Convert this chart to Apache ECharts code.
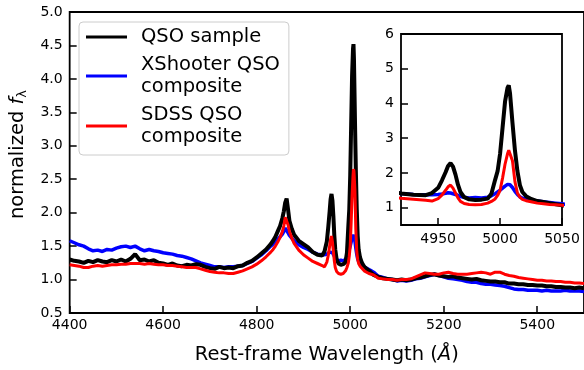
<!DOCTYPE html>
<html><head><meta charset="utf-8">
<script src="https://cdn.jsdelivr.net/npm/echarts@6/dist/echarts.min.js"></script>
<style>html,body{margin:0;padding:0;background:#fff}#c{width:584px;height:370px}</style>
</head><body><div id="c"></div>
<script>
const wavelength = [
4400,4410,4420,4430,4440,4450,4460,4470,4480,4490,
4500,4510,4520,4530,4540,4550,4560,4570,4580,4590,
4600,4610,4620,4630,4640,4650,4660,4670,4680,4690,
4700,4710,4720,4730,4740,4750,4760,4770,4780,4790,
4800,4810,4820,4830,
4835,4840,4845,4850,4855,4858,4861,4864,4867,4870,
4875,4880,4890,4900,4910,4920,4930,4940,4945,4950,
4953,4956,4958,4960,4962,4964,4966,4968,4971,4975,
4980,4985,4990,4993,4996,4998,5000,5002,5004,5006,
5007,5008,5010,5012,5014,5016,5018,5021,5025,5030,
5035,5040,5045,5050,
5060,5070,5080,5090,5100,5110,5120,5130,5140,5150,
5160,5170,5180,5190,5200,5210,5220,5230,5240,5250,
5260,5270,5280,5290,5300,5310,5320,5330,5340,5350,
5360,5370,5380,5390,5400,5410,5420,5430,5440,5450,
5460,5470,5480,5490,5500
];
const qsoSample = [
1.30,1.28,1.27,1.25,1.28,1.26,1.29,1.27,1.26,1.29,
1.27,1.30,1.27,1.31,1.38,1.29,1.30,1.27,1.29,1.25,
1.24,1.22,1.24,1.21,1.20,1.22,1.21,1.23,1.22,1.19,
1.17,1.16,1.19,1.17,1.18,1.17,1.20,1.21,1.25,1.28,
1.33,1.39,1.45,1.53,
1.58,1.64,1.72,1.80,1.92,2.02,2.15,2.21,2.05,1.88,
1.76,1.67,1.58,1.53,1.48,1.41,1.37,1.36,1.42,1.57,
1.78,2.02,2.20,2.28,2.18,1.95,1.66,1.45,1.30,1.24,
1.22,1.23,1.26,1.40,1.80,2.05,2.55,3.30,4.05,4.45,
4.52,4.30,3.45,2.65,2.05,1.65,1.45,1.33,1.25,1.19,
1.16,1.13,1.10,1.07,
1.04,1.02,1.01,1.00,0.99,1.00,0.99,1.00,1.02,1.03,
1.05,1.07,1.08,1.06,1.05,1.04,1.05,1.03,1.02,1.01,
1.00,1.01,0.99,0.98,0.97,0.97,0.96,0.96,0.94,0.94,
0.93,0.93,0.92,0.92,0.91,0.91,0.90,0.90,0.89,0.89,
0.88,0.88,0.87,0.88,0.87
];
const xshooterComposite = [
1.58,1.55,1.52,1.50,1.46,1.43,1.44,1.42,1.45,1.44,
1.47,1.49,1.50,1.48,1.50,1.46,1.43,1.45,1.43,1.42,
1.40,1.39,1.38,1.36,1.35,1.33,1.31,1.28,1.25,1.23,
1.21,1.19,1.19,1.18,1.19,1.19,1.20,1.21,1.24,1.27,
1.32,1.37,1.43,1.50,
1.53,1.57,1.60,1.64,1.68,1.72,1.77,1.76,1.70,1.66,
1.62,1.58,1.52,1.48,1.45,1.41,1.38,1.37,1.37,1.38,
1.39,1.41,1.43,1.42,1.40,1.38,1.35,1.32,1.30,1.28,
1.29,1.28,1.30,1.34,1.40,1.45,1.50,1.56,1.62,1.67,
1.69,1.66,1.58,1.47,1.38,1.31,1.27,1.24,1.22,1.19,
1.17,1.15,1.13,1.11,
1.05,1.03,1.01,1.00,0.98,0.99,0.98,0.99,1.01,1.02,
1.04,1.06,1.08,1.06,1.04,1.02,1.01,1.00,0.99,0.97,
0.96,0.96,0.94,0.93,0.93,0.92,0.91,0.90,0.88,0.86,
0.85,0.85,0.84,0.84,0.84,0.83,0.84,0.83,0.83,0.83,
0.84,0.83,0.83,0.83,0.82
];
const sdssComposite = [
1.22,1.21,1.20,1.18,1.18,1.20,1.21,1.20,1.21,1.22,
1.22,1.23,1.23,1.24,1.24,1.24,1.23,1.24,1.23,1.22,
1.22,1.21,1.21,1.20,1.19,1.18,1.18,1.18,1.16,1.14,
1.12,1.11,1.10,1.10,1.09,1.09,1.11,1.13,1.16,1.19,
1.23,1.28,1.34,1.41,
1.45,1.50,1.56,1.63,1.72,1.80,1.93,1.95,1.82,1.72,
1.62,1.54,1.44,1.37,1.32,1.27,1.24,1.21,1.19,1.26,
1.36,1.50,1.60,1.65,1.56,1.42,1.28,1.18,1.12,1.09,
1.08,1.09,1.13,1.18,1.25,1.35,1.50,1.85,2.25,2.55,
2.65,2.62,2.35,1.75,1.42,1.30,1.24,1.20,1.17,1.13,
1.11,1.09,1.08,1.07,
1.02,1.01,1.00,1.00,0.99,1.00,1.00,1.01,1.04,1.07,
1.10,1.09,1.08,1.08,1.10,1.11,1.09,1.08,1.08,1.08,
1.09,1.10,1.11,1.10,1.08,1.11,1.11,1.08,1.06,1.05,
1.03,1.02,1.01,1.00,0.99,0.99,0.98,0.98,0.97,0.97,
0.96,0.96,0.95,0.95,0.94
];
const seriesNames = ['QSO sample', 'XShooter QSO\ncomposite', 'SDSS QSO\ncomposite'];
const insetXTicks = [4950, 5000, 5050];
const insetYTicks = [1, 2, 3, 4, 5, 6];

const FONT = 'DejaVu Sans';
const pairs = arr => wavelength.map((w, i) => [w, arr[i]]);

const tickStyle = {inside: true, length: 7, lineStyle: {color: '#000', width: 1.5}};
const labelStyle = {color: '#000', fontSize: 14, fontFamily: FONT};

function lineSeries(name, arr, color, width, idx) {
  return {
    name: name, type: 'line', data: pairs(arr),
    xAxisIndex: idx, yAxisIndex: idx,
    showSymbol: false, symbol: 'none', silent: true, animation: false,
    lineStyle: {color: color, width: width}, itemStyle: {color: color},
    clip: true
  };
}

const chart = echarts.init(document.getElementById('c'), null, {renderer: 'canvas'});
chart.setOption({
  animation: false,
  backgroundColor: '#fff',
  grid: [
    {left: 69, top: 12, width: 516, height: 302, show: true, borderColor: '#000', borderWidth: 1.8, backgroundColor: 'transparent'},
    {left: 401, top: 34, width: 161, height: 191, show: true, borderColor: '#000', borderWidth: 1.8, backgroundColor: '#fff'}
  ],
  legend: {
    data: seriesNames.map(n => ({name: n, icon: 'rect'})),
    orient: 'vertical', left: 79, top: 22,
    itemWidth: 41, itemHeight: 3, itemGap: 6,
    padding: [4, 9, 7, 7],
    backgroundColor: 'rgba(255,255,255,0.85)',
    borderColor: '#cccccc', borderWidth: 1, borderRadius: 4,
    itemStyle: {borderWidth: 0},
    textStyle: {color: '#000', fontSize: 19.5, lineHeight: 22, fontFamily: FONT, padding: [0, 0, 0, 9]}
  },
  xAxis: [
    {gridIndex: 0, type: 'value', min: 4400, max: 5500, interval: 200,
     axisLine: {show: false}, axisTick: tickStyle, splitLine: {show: false},
     axisLabel: Object.assign({margin: 5, showMaxLabel: false, formatter: v => String(v)}, labelStyle),
     name: 'Rest-frame Wavelength ({a|Å})', nameLocation: 'middle', nameGap: 32,
     nameTextStyle: {color: '#000', fontSize: 19.5, fontFamily: FONT,
       rich: {a: {fontStyle: 'italic', fontSize: 19.5, fontFamily: FONT, color: '#000'}}}},
    {gridIndex: 1, type: 'value', min: 4920, max: 5050,
     axisLine: {show: false}, splitLine: {show: false},
     axisTick: Object.assign({customValues: insetXTicks}, tickStyle),
     axisLabel: Object.assign({margin: 7, customValues: insetXTicks, formatter: v => String(v)}, labelStyle)}
  ],
  yAxis: [
    {gridIndex: 0, type: 'value', min: 0.5, max: 5.0, interval: 0.5,
     axisLine: {show: false}, axisTick: tickStyle, splitLine: {show: false},
     axisLabel: Object.assign({margin: 7, formatter: v => v.toFixed(1)}, labelStyle),
     name: 'normalized {f|f}{s|λ}', nameLocation: 'middle', nameGap: 36,
     nameTextStyle: {color: '#000', fontSize: 19.5, fontFamily: FONT, padding: [0, 0, 0, 16],
       rich: {f: {fontStyle: 'italic', fontSize: 19.5, fontFamily: FONT, color: '#000'},
              s: {fontSize: 13, fontFamily: FONT, color: '#000', padding: [10, 0, 0, 0]}}}},
    {gridIndex: 1, type: 'value', min: 0.5, max: 6,
     axisLine: {show: false}, splitLine: {show: false},
     axisTick: Object.assign({customValues: insetYTicks}, tickStyle),
     axisLabel: Object.assign({margin: 7, customValues: insetYTicks, formatter: v => String(v)}, labelStyle)}
  ],
  series: [
    lineSeries(seriesNames[1], xshooterComposite, '#0000ff', 3.5, 0),
    lineSeries(seriesNames[0], qsoSample, '#000000', 4, 0),
    lineSeries(seriesNames[2], sdssComposite, '#ff0000', 3, 0),
    lineSeries(seriesNames[1], xshooterComposite, '#0000ff', 3.5, 1),
    lineSeries(seriesNames[0], qsoSample, '#000000', 4, 1),
    lineSeries(seriesNames[2], sdssComposite, '#ff0000', 3, 1)
  ]
});
</script></body></html>
